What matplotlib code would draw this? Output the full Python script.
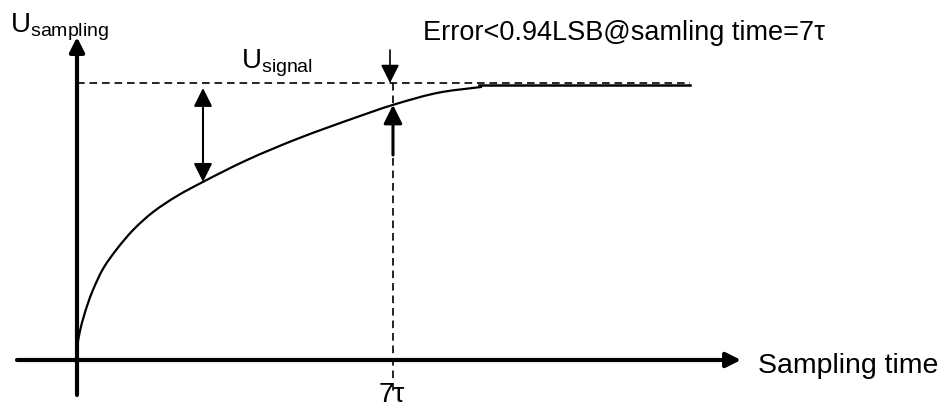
import matplotlib
matplotlib.use("Agg")
import matplotlib.pyplot as plt
from matplotlib.path import Path
from matplotlib.patches import PathPatch
import numpy as np

plt.rcParams['font.family'] = ['Liberation Sans', 'DejaVu Sans']
plt.rcParams['lines.scale_dashes'] = False

# settling curve of the sampled voltage, time in units of tau, voltage as fraction of U_signal
t_curve = [0.0, 0.066, 0.222, 0.354, 0.576, 0.886, 1.241, 1.684, 2.215, 2.791,
           3.766, 4.874, 6.203, 7.0, 8.108, 8.972]
u_curve = [0.047, 0.105, 0.195, 0.253, 0.329, 0.401, 0.469, 0.534, 0.592, 0.643,
           0.722, 0.798, 0.877, 0.921, 0.968, 0.986]
t_flat = [8.9, 13.58]
u_flat = [0.993, 0.993]

u_signal = 1.0
t_sample = 7.0
t_gap = 2.791         # where the U_signal gap is marked
u_gap = 0.643

# pixel <-> data mapping (origin at 77,360 px; 45.14 px per tau; 277 px per U_signal)
X0, Y0, SX, SY = 77.0, 360.0, 45.14, 277.0
W, H = 948, 409


def px(x, y):
    return (x - X0) / SX, (Y0 - y) / SY


def monotone_path(xs, ys):
    # monotone cubic (Fritsch-Carlson) through the points, as Bezier segments
    x = np.asarray(xs, float)
    y = np.asarray(ys, float)
    h = np.diff(x)
    d = np.diff(y) / h
    m = np.empty_like(x)
    m[0], m[-1] = d[0], d[-1]
    for k in range(1, len(x) - 1):
        if d[k - 1] * d[k] <= 0:
            m[k] = 0.0
        else:
            w1 = 2 * h[k] + h[k - 1]
            w2 = h[k] + 2 * h[k - 1]
            m[k] = (w1 + w2) / (w1 / d[k - 1] + w2 / d[k])
    verts = [(x[0], y[0])]
    codes = [Path.MOVETO]
    for k in range(len(x) - 1):
        verts += [(x[k] + h[k] / 3, y[k] + m[k] * h[k] / 3),
                  (x[k + 1] - h[k] / 3, y[k + 1] - m[k + 1] * h[k] / 3),
                  (x[k + 1], y[k + 1])]
        codes += [Path.CURVE4] * 3
    return Path(verts, codes)


fig = plt.figure(figsize=(W / 100, H / 100), dpi=100)
ax = fig.add_axes([0, 0, 1, 1])
ax.set_xlim(px(0, 0)[0], px(W, 0)[0])
ax.set_ylim(px(0, H)[1], px(0, 0)[1])
ax.axis('off')

head = dict(color='k', shrinkA=0, shrinkB=0)

# axes with arrow heads
ax.annotate("", xy=(px(741, 0)[0], 0), xytext=(px(17, 0)[0], 0),
            arrowprops=dict(arrowstyle='-|>', mutation_scale=22, lw=3, **head))
ax.annotate("", xy=(0, px(0, 37)[1]), xytext=(0, px(0, 395)[1]),
            arrowprops=dict(arrowstyle='-|>', mutation_scale=22, lw=3, **head))

# reference level and sampling instant
ax.plot([0, t_flat[1]], [u_signal, u_signal], color='k', lw=1.2, dashes=(5.5, 3.5))
ax.plot([t_sample, t_sample], [u_signal, px(0, 395)[1]], color='k', lw=1.2, dashes=(5.5, 3.5))

# settling curve
ax.add_patch(PathPatch(monotone_path(t_curve, u_curve), fill=False, ec='k', lw=1.6))
ax.plot(t_flat, u_flat, color='k', lw=1.8)

# U_signal gap marker
ax.annotate("", xy=(t_gap, u_signal - 0.018), xytext=(t_gap, u_gap),
            arrowprops=dict(arrowstyle='<|-|>', mutation_scale=28, lw=1.5, **head))

# error marks at 7 tau
ax.annotate("", xy=(px(390, 0)[0], u_signal), xytext=(px(390, 50)[0], px(0, 50)[1]),
            arrowprops=dict(arrowstyle='-|>', mutation_scale=28, lw=1.2, **head))
ax.annotate("", xy=(t_sample, u_curve[t_curve.index(t_sample)]),
            xytext=(t_sample, px(0, 155)[1]),
            arrowprops=dict(arrowstyle='-|>', mutation_scale=28, lw=2.2, **head))

# labels
ax.text(*px(10, 32), r"U$_\mathregular{sampling}$", fontsize=20, ha='left', va='baseline')
ax.text(*px(241, 68), r"U$_\mathregular{signal}$", fontsize=20, ha='left', va='baseline')
ax.text(*px(423, 40), "Error<0.94LSB@samling time=7\u03c4", fontsize=19.5,
        ha='left', va='baseline')
ax.text(*px(758, 373), "Sampling time", fontsize=20.5, ha='left', va='baseline')
ax.text(*px(392, 402), "7\u03c4", fontsize=20, ha='center', va='baseline')

fig.savefig("out.png", dpi=100)
